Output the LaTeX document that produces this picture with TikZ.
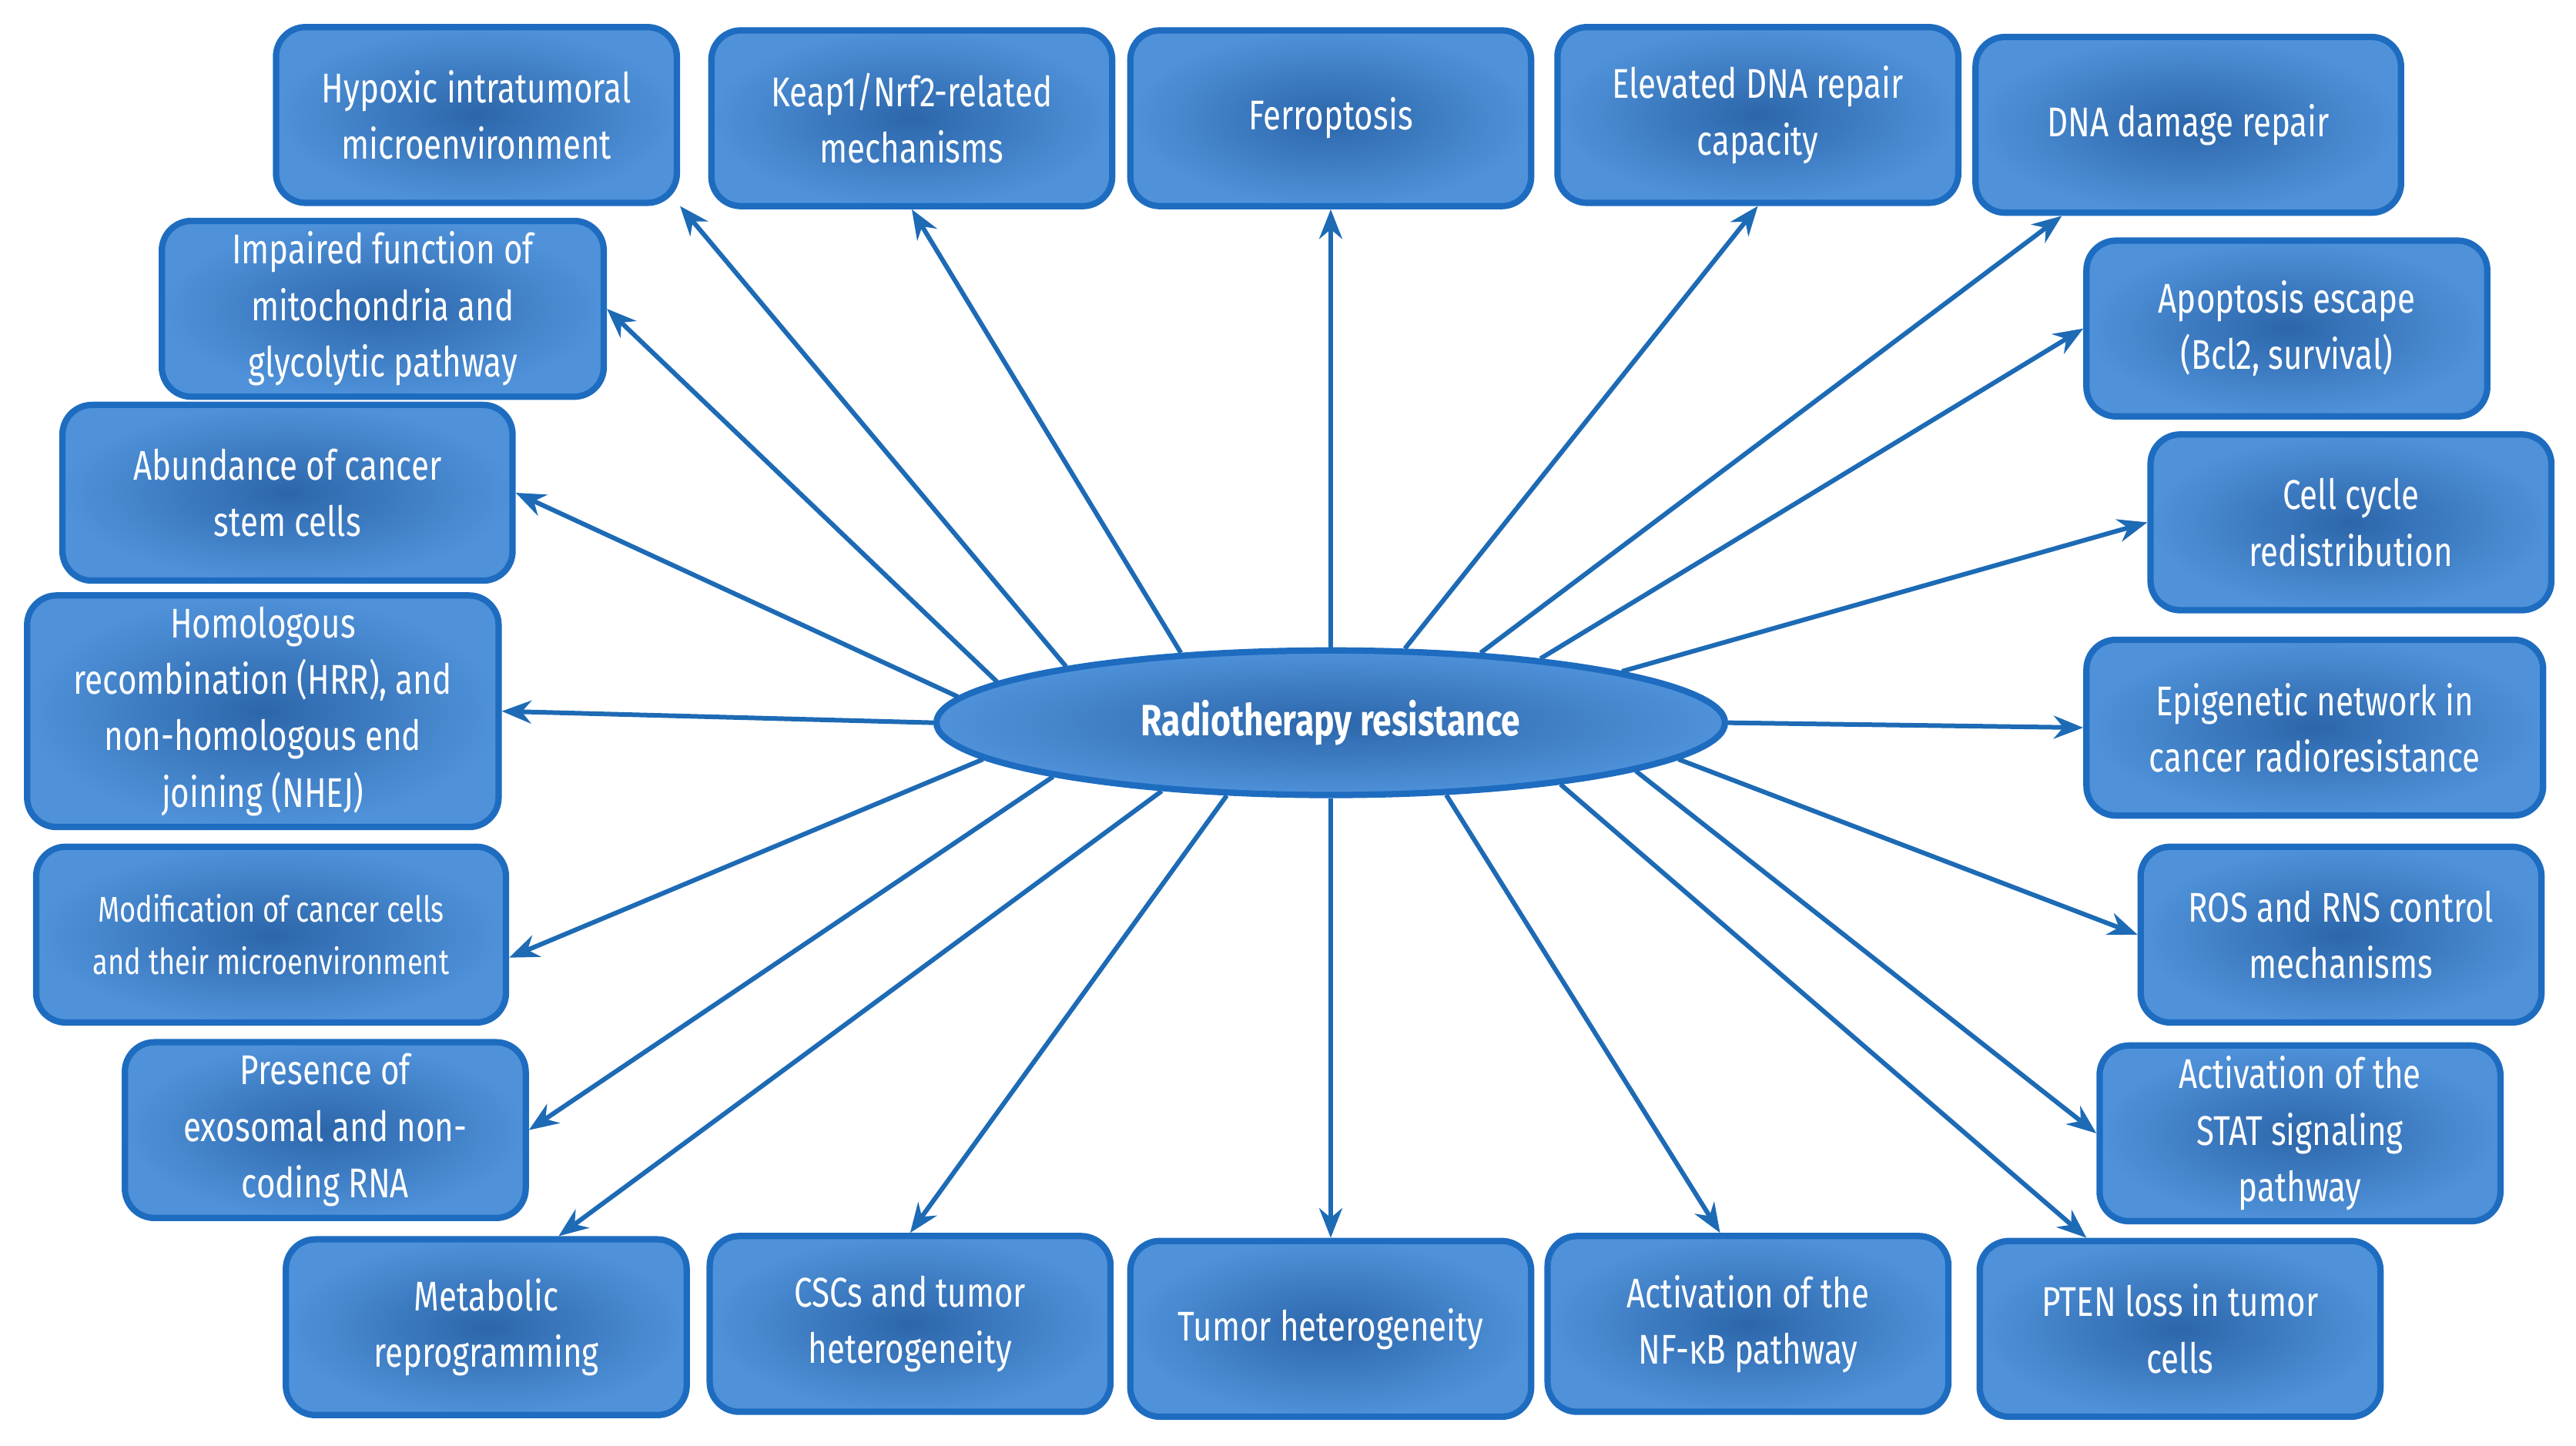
\documentclass[tikz,border=0pt]{standalone}
\usepackage{fontspec}
\setmainfont{Fira Sans}[FakeStretch=0.78]
\usetikzlibrary{shapes.geometric,arrows.meta,calc}
\definecolor{bd}{HTML}{1E6CC0}
\definecolor{inn}{HTML}{2C66AA}
\definecolor{outc}{HTML}{4F92DA}
\definecolor{arr}{HTML}{1D6AB5}
\tikzset{
 box/.style={draw=bd,line width=5.5pt,rounded corners=0.9cm,inner color=inn,outer color=outc,
   text=white,align=center,font=\fontsize{36}{49}\selectfont,minimum width=12.2cm,minimum height=5.35cm,inner sep=2pt},
 ar/.style={draw=arr,line width=4pt,-{Stealth[length=0.9cm,width=0.7cm]}}
}
\begin{document}
\begin{tikzpicture}[x=0.05cm,y=-0.05cm]
\useasboundingbox (0,0) rectangle (1568,880);
\node[ellipse,draw=bd,line width=5.5pt,inner color=inn,outer color=outc,minimum width=24cm,minimum height=4.4cm,text=white,font=\fontsize{38}{48}\selectfont\bfseries] (e) at (810,440) {Radiotherapy resistance};
\node[box] (hyp) at (290,70) {Hypoxic intratumoral\\microenvironment};
\node[box] (kea) at (555,72) {Keap1/Nrf2-related\\mechanisms};
\node[box] (fer) at (810,72) {Ferroptosis};
\node[box] (ele) at (1070,70) {Elevated DNA repair\\capacity};
\node[box,minimum width=12.95cm] (dna) at (1332,76) {DNA damage repair};
\node[box,minimum width=13.45cm] (imp) at (233,188) {Impaired function of\\mitochondria and\\glycolytic pathway};
\node[box,minimum width=13.7cm] (abu) at (175,300) {Abundance of cancer\\stem cells};
\node[box,minimum width=14.35cm,minimum height=7.05cm] (hom) at (160,433) {Homologous\\recombination (HRR), and\\non-homologous end\\joining (NHEJ)};
\node[box,minimum width=14.3cm,font=\fontsize{31}{45}\selectfont] (mod) at (165,569) {Modification of cancer cells\\and their microenvironment};
\node[box] (pre) at (198,688) {Presence of\\exosomal and non-\\coding RNA};
\node[box] (met) at (296,808) {Metabolic\\reprogramming};
\node[box] (csc) at (554,806) {CSCs and tumor\\heterogeneity};
\node[box] (tum) at (810,809) {Tumor heterogeneity};
\node[box] (nfk) at (1064,806) {Activation of the\\NF-κB pathway};
\node[box] (pte) at (1327,809) {PTEN loss in tumor\\cells};
\node[box] (apo) at (1392,200) {Apoptosis escape\\(Bcl2, survival)};
\node[box] (cel) at (1431,318) {Cell cycle\\redistribution};
\node[box,minimum width=13.9cm] (epi) at (1409,443) {Epigenetic network in\\cancer radioresistance};
\node[box] (ros) at (1425,569) {ROS and RNS control\\mechanisms};
\node[box] (sta) at (1400,690) {Activation of the\\STAT signaling\\pathway};
\draw[ar] (e.168.6) -- (hyp.south east);
\draw[ar] (e.155) -- (kea.south);
\draw[ar] (e.90) -- (fer.south);
\draw[ar] (e.45) -- (ele.south);
\draw[ar] (e.25) -- ([xshift=-3.85cm]dna.south);
\draw[ar] (e.17.7) -- (apo.west);
\draw[ar] (e.10.4) -- (cel.west);
\draw[ar] (e.0) -- (epi.west);
\draw[ar] (e.-6.1) -- (ros.west);
\draw[ar] (e.-9.7) -- (sta.west);
\draw[ar] (e.-15.7) -- ([xshift=-2.85cm]pte.north);
\draw[ar] (e.-32) -- ([xshift=-0.85cm]nfk.north);
\draw[ar] (e.-90) -- (tum.north);
\draw[ar] (e.-145.5) -- (csc.north);
\draw[ar] (e.-158.2) -- ([xshift=2.2cm]met.north);
\draw[ar] (e.-169.3) -- (pre.east);
\draw[ar] (e.-174.3) -- ([yshift=-0.7cm]mod.east);
\draw[ar] (e.180) -- (hom.east);
\draw[ar] (e.176.3) -- (abu.east);
\draw[ar] (e.173.2) -- (imp.east);
\end{tikzpicture}
\end{document}
